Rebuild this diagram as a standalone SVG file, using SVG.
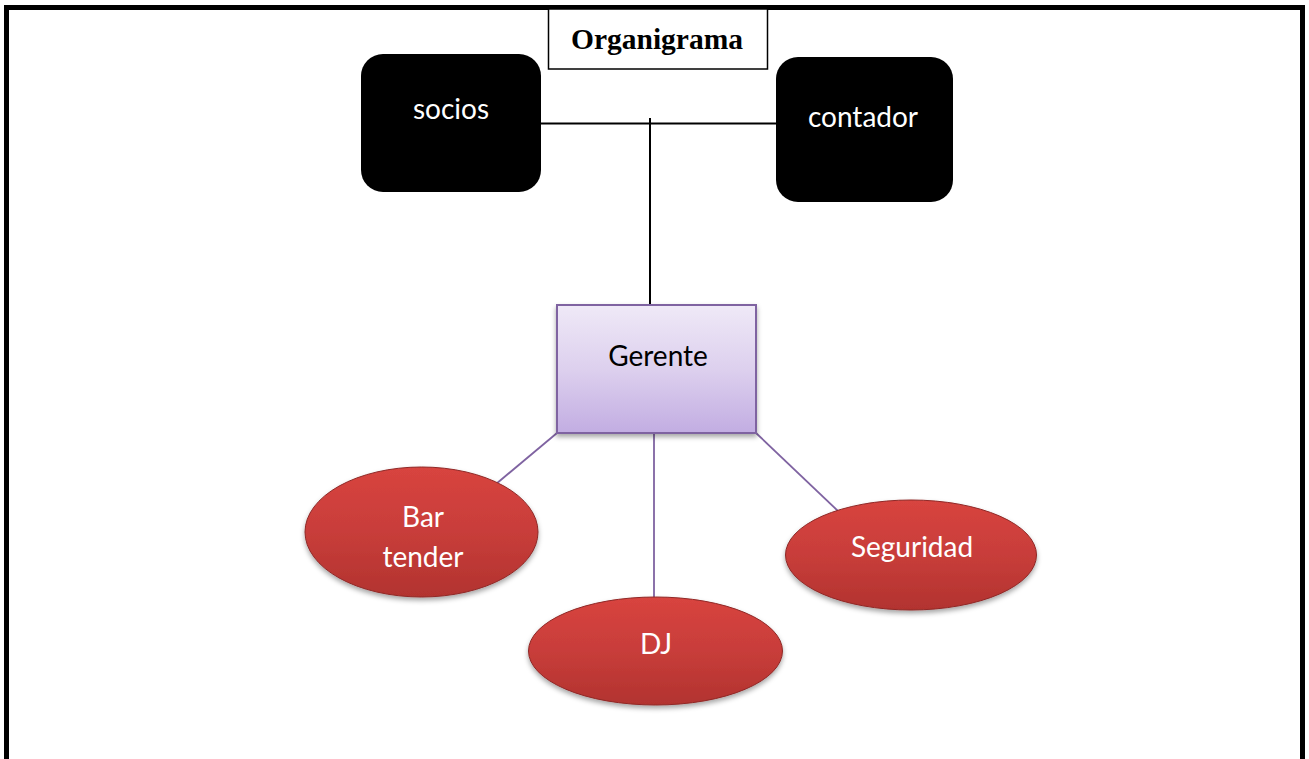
<svg xmlns="http://www.w3.org/2000/svg" width="1309" height="759" viewBox="0 0 1309 759">
  <defs>
    <linearGradient id="gPurple" x1="0" y1="0" x2="0" y2="1">
      <stop offset="0" stop-color="#efe9f7"/>
      <stop offset="0.5" stop-color="#ddd0ee"/>
      <stop offset="1" stop-color="#c2ade2"/>
    </linearGradient>
    <linearGradient id="gRed" x1="0" y1="0" x2="0" y2="1">
      <stop offset="0" stop-color="#d8443f"/>
      <stop offset="0.5" stop-color="#c83d3a"/>
      <stop offset="1" stop-color="#b2332f"/>
    </linearGradient>
    <filter id="shadow" x="-10%" y="-10%" width="120%" height="130%">
      <feDropShadow dx="0" dy="3" stdDeviation="2.5" flood-color="#000" flood-opacity="0.35"/>
    </filter>
    <style>
      .frame { fill: none; stroke: #000; stroke-width: 5; }
      .title-box { fill: #fff; stroke: #000; stroke-width: 1.5; }
      .title { font-family: "Liberation Serif", "Times New Roman", serif; font-weight: bold; font-size: 29.5px; fill: #000; text-anchor: middle; }
      .black-box { fill: #000; }
      .lbl { font-family: Lato, "Noto Sans", sans-serif; font-size: 28px; text-anchor: middle; }
      .white { fill: #fff; }
      .dark { fill: #000; }
      .purple-box { fill: url(#gPurple); stroke: #7f63a1; stroke-width: 2; filter: url(#shadow); }
      .red-ell { fill: url(#gRed); stroke: #8f2826; stroke-width: 1; filter: url(#shadow); }
      .blk-line { stroke: #000; stroke-width: 2; fill: none; }
      .pur-line { stroke: #7f63a1; stroke-width: 1.8; fill: none; }
    </style>
  </defs>

  <rect x="0" y="0" width="1309" height="759" fill="#fff"/>
  <rect class="frame" x="6.5" y="7.5" width="1296" height="800"/>

  <g id="connectors">
    <line class="blk-line" x1="541" y1="123.5" x2="777" y2="123.5"/>
    <line class="blk-line" x1="650" y1="118" x2="650" y2="305"/>
    <line class="pur-line" x1="557" y1="433" x2="496" y2="484"/>
    <line class="pur-line" x1="654" y1="433" x2="654" y2="598"/>
    <line class="pur-line" x1="756" y1="433" x2="838" y2="511"/>
  </g>

  <g id="title">
    <rect class="title-box" x="548.5" y="9" width="219" height="60"/>
    <text class="title" x="657" y="49">Organigrama</text>
  </g>

  <g id="socios">
    <rect class="black-box" x="361" y="54" width="180" height="138" rx="22" ry="22"/>
    <text class="lbl white" x="451" y="119">socios</text>
  </g>

  <g id="contador">
    <rect class="black-box" x="776" y="57" width="177" height="145" rx="22" ry="22"/>
    <text class="lbl white" x="863" y="127">contador</text>
  </g>

  <g id="gerente">
    <rect class="purple-box" x="557" y="305" width="199" height="128"/>
    <text class="lbl dark" x="658" y="366">Gerente</text>
  </g>

  <g id="bartender">
    <ellipse class="red-ell" cx="421.5" cy="532" rx="116.5" ry="65"/>
    <text class="lbl white" x="423" y="527">Bar</text>
    <text class="lbl white" x="423" y="567">tender</text>
  </g>

  <g id="dj">
    <ellipse class="red-ell" cx="655.5" cy="651" rx="127" ry="54"/>
    <text class="lbl white" x="656" y="654">DJ</text>
  </g>

  <g id="seguridad">
    <ellipse class="red-ell" cx="911" cy="555" rx="125.5" ry="55"/>
    <text class="lbl white" x="912" y="557">Seguridad</text>
  </g>
</svg>
